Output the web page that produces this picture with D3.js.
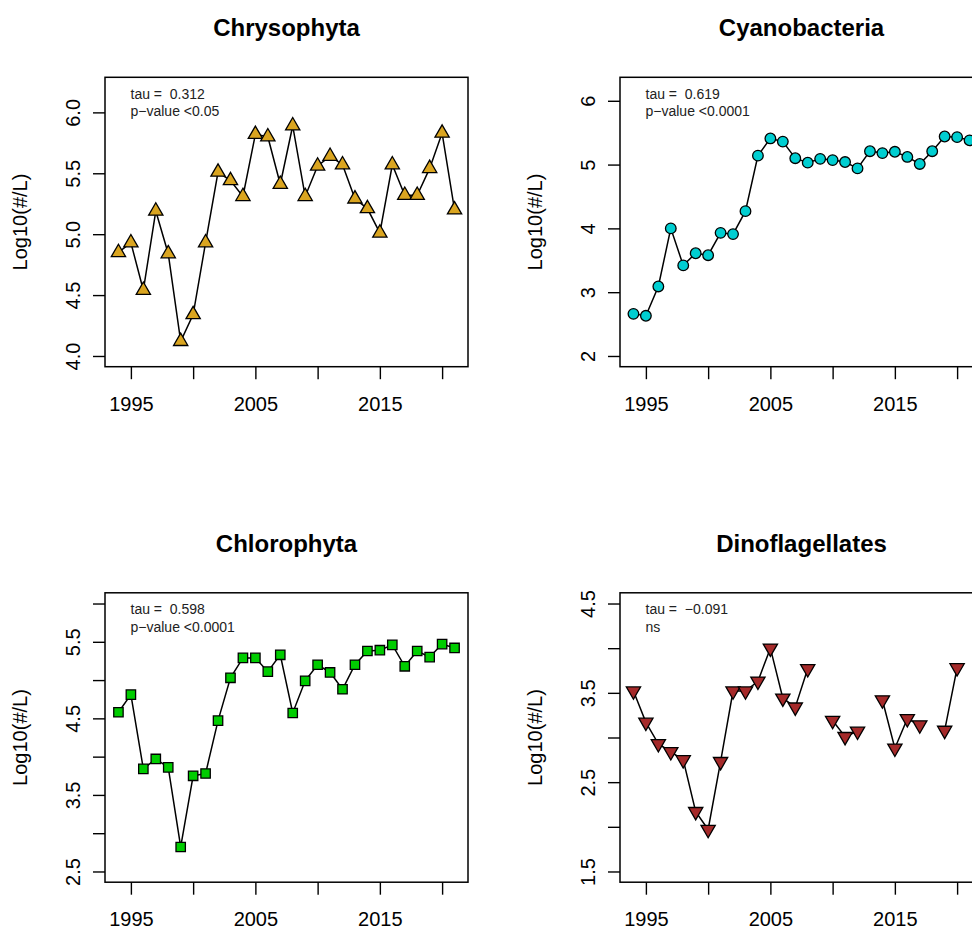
<!DOCTYPE html>
<html>
<head>
<meta charset="utf-8">
<script src="https://cdn.jsdelivr.net/npm/d3@7"></script>
<style>
  html, body { margin: 0; padding: 0; background: #fff; }
  svg { display: block; font-family: "Liberation Sans", Arial, Helvetica, sans-serif; }
  text { white-space: pre; }
</style>
</head>
<body>
<svg id="chart" width="972" height="930"></svg>
<script>
// ---------------- data ----------------
const years = [1994,1995,1996,1997,1998,1999,2000,2001,2002,2003,2004,2005,2006,2007,
               2008,2009,2010,2011,2012,2013,2014,2015,2016,2017,2018,2019,2020,2021];

const chrysophyta = [4.85,4.93,4.54,5.19,4.84,4.12,4.34,4.93,5.51,5.44,5.31,5.82,5.80,5.41,
                     5.89,5.31,5.56,5.64,5.57,5.29,5.21,5.01,5.57,5.32,5.32,5.54,5.83,5.20];
const cyanobacteria = [2.66,2.63,3.09,4.00,3.42,3.61,3.58,3.93,3.91,4.27,5.14,5.41,5.36,5.10,
                       5.03,5.09,5.07,5.04,4.94,5.21,5.18,5.20,5.12,5.01,5.21,5.44,5.43,5.38];
const chlorophyta = [4.58,4.81,3.84,3.97,3.86,2.82,3.75,3.78,4.47,5.03,5.29,5.29,5.11,5.33,
                     4.57,4.99,5.20,5.10,4.88,5.20,5.38,5.39,5.46,5.18,5.38,5.30,5.47,5.42];
const dinoflagellates = [3.52,3.17,2.93,2.84,2.75,2.17,1.97,2.73,3.52,3.52,3.63,4.00,3.44,3.34,
                         3.77,null,3.19,3.01,3.07,null,3.42,2.88,3.21,3.14,null,3.08,3.78,null];

const titles = ["Chrysophyta", "Cyanobacteria", "Chlorophyta", "Dinoflagellates"];
const tauLabels = ["tau =  0.312", "tau =  0.619", "tau =  0.598", "tau =  \u22120.091"];
const sigLabels = ["p\u2212value <0.05", "p\u2212value <0.0001", "p\u2212value <0.0001", "ns"];

const xTicks = [1995, 2000, 2005, 2010, 2015, 2020];
const xTickLabels = ["1995", "", "2005", "", "2015", ""];

const yLims = [[4, 6.2], [2, 6.2], [2.5, 6], [1.5, 4.5]];
const yTicks1 = [4.0, 4.5, 5.0, 5.5, 6.0];
const yTickLabels1 = ["4.0", "4.5", "5.0", "5.5", "6.0"];
const yTicks2 = [2, 3, 4, 5, 6];
const yTickLabels2 = ["2", "3", "4", "5", "6"];
const yTicks3 = [2.5, 3.0, 3.5, 4.0, 4.5, 5.0, 5.5, 6.0];
const yTickLabels3 = ["2.5", "", "3.5", "", "4.5", "", "5.5", ""];
const yTicks4 = [1.5, 2.0, 2.5, 3.0, 3.5, 4.0, 4.5];
const yTickLabels4 = ["1.5", "", "2.5", "", "3.5", "", "4.5"];

const fills = ["#DAA520", "#00CED1", "#00CD00", "#A52A2A"];
const yLabel = "Log10(#/L)";

// ---------------- layout ----------------
const svg = d3.select("#chart");
const panelW = 515, panelH = 515.5;
const box = { left: 105, right: 468, top: 77.3, bottom: 366.7 };
const markerR = 5.3;

const panels = [
  { values: chrysophyta, yTicks: yTicks1, yTickLabels: yTickLabels1, symbol: d3.symbolTriangle, rot: 0 },
  { values: cyanobacteria, yTicks: yTicks2, yTickLabels: yTickLabels2, symbol: d3.symbolCircle, rot: 0 },
  { values: chlorophyta, yTicks: yTicks3, yTickLabels: yTickLabels3, symbol: d3.symbolSquare, rot: 0 },
  { values: dinoflagellates, yTicks: yTicks4, yTickLabels: yTickLabels4, symbol: d3.symbolTriangle, rot: 180 }
];

const xMin = d3.min(years), xMax = d3.max(years);
const xPad = (xMax - xMin) * 0.04;

panels.forEach((p, i) => {
  const ox = (i % 2) * panelW;
  const oy = Math.floor(i / 2) * panelH;
  const g = svg.append("g").attr("transform", `translate(${ox},${oy})`);

  const [ylo, yhi] = yLims[i];
  const yPad = (yhi - ylo) * 0.04;
  const x = d3.scaleLinear().domain([xMin - xPad, xMax + xPad]).range([box.left, box.right]);
  const y = d3.scaleLinear().domain([ylo - yPad, yhi + yPad]).range([box.bottom, box.top]);

  // x axis
  const xa = g.append("g").attr("transform", `translate(0,${box.bottom})`)
    .call(d3.axisBottom(x).tickValues(xTicks).tickSize(12.5).tickSizeOuter(0)
      .tickFormat((d, k) => xTickLabels[k]));
  xa.select(".domain").remove();
  xa.selectAll(".tick line").attr("stroke", "#000").attr("stroke-width", 1.4);
  xa.selectAll(".tick text").attr("y", 44).attr("dy", 0)
    .attr("font-size", 20).attr("fill", "#000").attr("font-family", null);

  // y axis
  const ya = g.append("g").attr("transform", `translate(${box.left},0)`)
    .call(d3.axisLeft(y).tickValues(p.yTicks).tickSize(12).tickSizeOuter(0)
      .tickFormat((d, k) => p.yTickLabels[k]));
  ya.select(".domain").remove();
  ya.selectAll(".tick line").attr("stroke", "#000").attr("stroke-width", 1.4);
  ya.selectAll(".tick text").attr("x", null).attr("dy", 0)
    .attr("text-anchor", "middle")
    .attr("transform", "translate(-25.5,0) rotate(-90)")
    .attr("font-size", 20).attr("fill", "#000").attr("font-family", null);

  // box
  g.append("rect")
    .attr("x", box.left).attr("y", box.top)
    .attr("width", box.right - box.left).attr("height", box.bottom - box.top)
    .attr("fill", "none").attr("stroke", "#000").attr("stroke-width", 1.5);

  // title
  g.append("text")
    .attr("x", (box.left + box.right) / 2).attr("y", 36)
    .attr("text-anchor", "middle").attr("font-size", 24).attr("font-weight", "bold")
    .text(titles[i]);

  // y label
  g.append("text")
    .attr("transform", `translate(27,${(box.top + box.bottom) / 2}) rotate(-90)`)
    .attr("text-anchor", "middle").attr("font-size", 20)
    .text(yLabel);

  // annotation
  g.append("text").attr("x", box.left + 25.5).attr("y", box.top + 21.5)
    .attr("font-size", 14).attr("fill", "#222").text(tauLabels[i]);
  g.append("text").attr("x", box.left + 25.5).attr("y", box.top + 39)
    .attr("font-size", 14).attr("fill", "#222").text(sigLabels[i]);

  // data
  const data = years.map((yr, k) => ({ yr, v: p.values[k] }));
  const line = d3.line().defined(d => d.v !== null).x(d => x(d.yr)).y(d => y(d.v));
  const layer = g.append("g");
  layer.append("path").datum(data).attr("d", line)
    .attr("fill", "none").attr("stroke", "#000").attr("stroke-width", 1.5);

  const sym = d3.symbol().type(p.symbol).size(Math.PI * markerR * markerR);
  layer.selectAll("path.pt").data(data.filter(d => d.v !== null)).join("path")
    .attr("class", "pt")
    .attr("d", sym)
    .attr("transform", d => `translate(${x(d.yr)},${y(d.v)}) rotate(${p.rot})`)
    .attr("fill", fills[i]).attr("stroke", "#000").attr("stroke-width", 1.3);
});
</script>
</body>
</html>
